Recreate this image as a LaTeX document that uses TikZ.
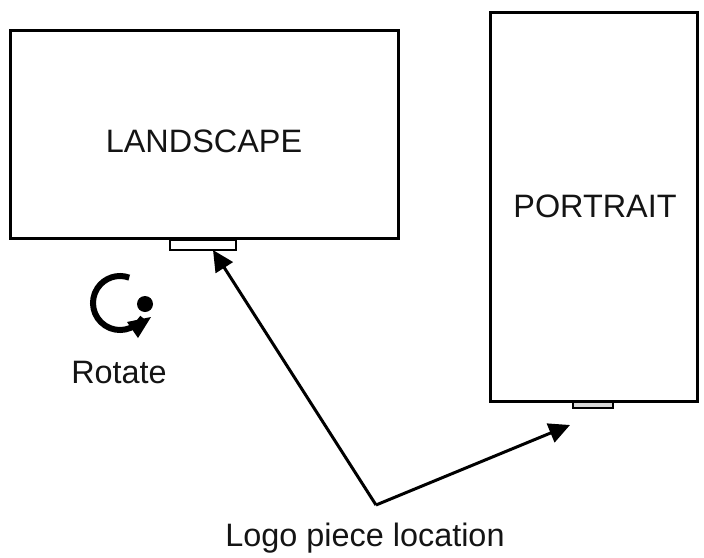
\documentclass[tikz,border=0pt]{standalone}
\usepackage{fontspec}
\setmainfont{Liberation Sans}
\usetikzlibrary{arrows.meta}
\tikzset{
 box/.style={draw=black,line width=3pt,fill=white,inner sep=0pt},
 tab/.style={draw=black,line width=2.4pt,fill=white,inner sep=0pt},
 lab/.style={inner sep=0pt,text=black!92,font=\fontsize{32.4}{38}\selectfont},
 arrow/.style={line width=3pt,-{Triangle[length=21pt,width=20pt]}}
}
\begin{document}
\begin{tikzpicture}[x=1pt,y=-1pt]
\useasboundingbox (0,0) rectangle (704,557);
\node[tab,minimum width=66pt,minimum height=10pt] (ltab) at (203,245) {};
\node[tab,fill=black!15,minimum width=40pt,minimum height=7pt] (ptab) at (593,404.5) {};
\node[box,minimum width=388pt,minimum height=208pt] (land) at (204,134) {};
\node[box,minimum width=207pt,minimum height=389pt] (port) at (594,207) {};
\node[lab] (ltext) at (204,141) {LANDSCAPE};
\node[lab] (ptext) at (595,206) {PORTRAIT};
\node[lab] (rot) at (119,373) {Rotate};
\node[lab] (logo) at (365,538) {Logo piece location};
\coordinate (hub) at (376,505);
\coordinate (lend) at (213,250);
\coordinate (pend) at (570,425);
\draw[arrow] (hub) -- (lend);
\draw[arrow] (hub) -- (pend);
\fill (145,304) circle (8pt);
\draw[line width=6pt] (120,303)+(-33:27pt) arc[start angle=-33,end angle=-290,radius=27pt];
\fill (151,317) -- (127,322) -- (138,338) -- cycle;
\end{tikzpicture}
\end{document}
